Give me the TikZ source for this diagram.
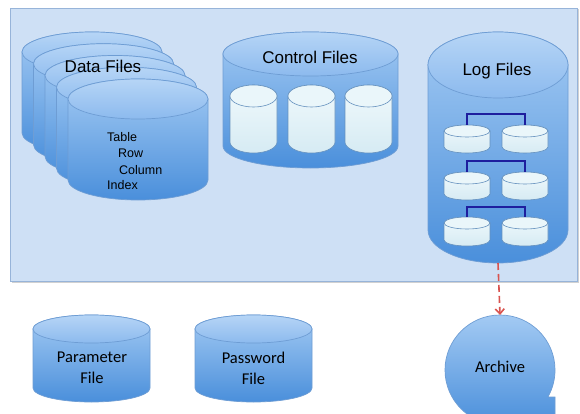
\documentclass[tikz,border=0pt]{standalone}
\usepackage{fontspec}
\setmainfont{Liberation Sans}
\newfontfamily\calib{Carlito}
\usetikzlibrary{arrows.meta}
\definecolor{panelFill}{HTML}{CEE0F5}
\definecolor{panelLine}{HTML}{97B4D9}
\definecolor{cylTop}{HTML}{A3CAF3}
\definecolor{cylBot}{HTML}{4A8FDB}
\definecolor{capTop}{HTML}{B6D5F6}
\definecolor{capBot}{HTML}{8CBAEE}
\definecolor{cylLine}{HTML}{6E9DD4}
\definecolor{wTop}{HTML}{F0F9FC}
\definecolor{wBot}{HTML}{D6EBF3}
\definecolor{wCap}{HTML}{EAF6FA}
\definecolor{wLine}{HTML}{6591BE}
\definecolor{navy}{HTML}{1E1E9E}
\definecolor{arrRed}{HTML}{D9534F}
\tikzset{
  bigbody/.style={top color=cylTop, bottom color=cylBot, draw=cylLine, line width=0.7pt},
  bigcap/.style={top color=capTop, bottom color=capBot, draw=cylLine, line width=0.7pt},
  smallbody/.style={top color=wTop, bottom color=wBot, draw=wLine, line width=0.6pt},
  smallcap/.style={fill=wCap, draw=wLine, line width=0.6pt},
  headtxt/.style={font=\fontsize{17}{20}\selectfont, text=black},
  innertxt/.style={font=\fontsize{12.5}{14}\selectfont, text=black, anchor=west, inner sep=0pt},
  caltxt/.style={font=\calib\fontsize{16.5}{21}\selectfont, text=black, align=center},
  tree/.style={draw=navy, line width=1.8pt},
  archline/.style={draw=arrRed, line width=1.6pt, dash pattern=on 7pt off 4pt}
}
% #1 name, #2 cx, #3 top, #4 width, #5 height, #6 ry, #7 body style, #8 cap style
\newcommand\dbcyl[8]{%
  \path[#7] ({#2-#4/2},{#3+#6}) -- ({#2-#4/2},{#3+#5-#6})
    arc[start angle=180,end angle=0,x radius={#4/2},y radius={#6}]
    -- ({#2+#4/2},{#3+#6})
    arc[start angle=0,end angle=-180,x radius={#4/2},y radius={#6}] -- cycle;
  \path[#8] (#2,{#3+#6}) ellipse[x radius={#4/2}, y radius={#6}];
  \coordinate (#1) at (#2,{#3+#5/2});
  \coordinate (#1T) at (#2,#3);
  \coordinate (#1B) at (#2,{#3+#5});
}
\begin{document}
\begin{tikzpicture}[x=1pt,y=-1pt]
\useasboundingbox (0,0) rectangle (580,414);
\fill[white] (0,0) rectangle (580,414);
% panel
\fill[black!18] (11.5,9.5) rectangle (578.5,282.5);
\path[fill=panelFill, draw=panelLine, line width=0.8pt] (10,8) rectangle (577,281);
% data files stack
\foreach \i in {0,...,4}{
  \pgfmathsetmacro\cx{92+11.5*\i}
  \pgfmathsetmacro\ty{32+11.75*\i}
  \dbcyl{data\i}{\cx}{\ty}{140}{121}{20}{bigbody}{bigcap}
}
\node[headtxt] (dataLbl) at (103,66) {Data Files};
\node[innertxt] (tTable) at (107,137) {Table};
\node[innertxt] (tRow) at (118,153) {Row};
\node[innertxt] (tCol) at (119,170) {Column};
\node[innertxt] (tIdx) at (107,185) {Index};
% control files
\dbcyl{ctl}{310.5}{32}{175}{136}{22}{bigbody}{bigcap}
\node[headtxt] (ctlLbl) at (310,57) {Control Files};
\dbcyl{c1}{253.5}{85}{47}{68}{11}{smallbody}{smallcap}
\dbcyl{c2}{311.5}{85}{47}{68}{11}{smallbody}{smallcap}
\dbcyl{c3}{368.5}{85}{47}{68}{11}{smallbody}{smallcap}
% log files
\dbcyl{log}{498}{32}{140}{231}{33}{bigbody}{bigcap}
\node[headtxt] (logLbl) at (497,71) {Log Files};
\dbcyl{l1a}{467}{125}{46}{28}{6}{smallbody}{smallcap}
\dbcyl{l1b}{525}{125}{46}{28}{6}{smallbody}{smallcap}
\dbcyl{l2a}{467}{172}{46}{28}{6}{smallbody}{smallcap}
\dbcyl{l2b}{525}{172}{46}{28}{6}{smallbody}{smallcap}
\dbcyl{l3a}{467}{217}{46}{29}{6}{smallbody}{smallcap}
\dbcyl{l3b}{525}{217}{46}{29}{6}{smallbody}{smallcap}
\draw[tree] (l1aT) -- ++(0,-11) -| (l1bT);
\draw[tree] (l2aT) -- ++(0,-11) -| (l2bT);
\draw[tree] (l3aT) -- ++(0,-10) -| (l3bT);
% parameter / password
\dbcyl{par}{91.5}{315}{117}{87}{14}{bigbody}{bigcap}
\node[caltxt] (parLbl) at (92,368) {Parameter\\File};
\dbcyl{pwd}{253.5}{315}{117}{87}{14}{bigbody}{bigcap}
\node[caltxt] (pwdLbl) at (253.5,368) {Password\\File};
% archive
\path[bigbody] (548,397) -- (555,397) -- (555,425) -- (500,425)
  arc[start angle=90,end angle=389.4,radius=55] -- cycle;
\coordinate (archT) at (500,315);
\node[caltxt] (archLbl) at (500,367) {Archive};
\draw[archline, -{Straight Barb[length=5pt,width=9pt]}] (logB) -- (archT);
\end{tikzpicture}
\end{document}
